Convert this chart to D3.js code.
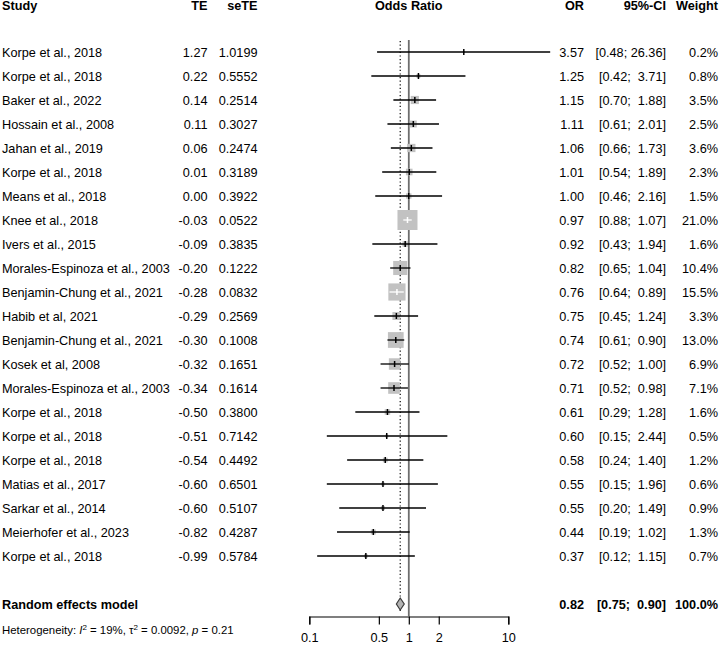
<!DOCTYPE html>
<html><head><meta charset="utf-8">
<script src="https://cdn.jsdelivr.net/npm/d3@7"></script>
<style>
html,body{margin:0;padding:0;background:#fff;}
svg{display:block;font-family:"Liberation Sans",Arial,Helvetica,sans-serif;}
text{white-space:pre;}
</style></head>
<body>
<svg id="chart" width="720" height="646"></svg>
<script>
const studies = ["Korpe et al., 2018","Korpe et al., 2018","Baker et al., 2022","Hossain et al., 2008","Jahan et al., 2019","Korpe et al., 2018","Means et al., 2018","Knee et al., 2018","Ivers et al., 2015","Morales-Espinoza et al., 2003","Benjamin-Chung et al., 2021","Habib et al, 2021","Benjamin-Chung et al., 2021","Kosek et al, 2008","Morales-Espinoza et al., 2003","Korpe et al., 2018","Korpe et al., 2018","Korpe et al., 2018","Matias et al., 2017","Sarkar et al., 2014","Meierhofer et al., 2023","Korpe et al., 2018"];
const TE = ["1.27","0.22","0.14","0.11","0.06","0.01","0.00","-0.03","-0.09","-0.20","-0.28","-0.29","-0.30","-0.32","-0.34","-0.50","-0.51","-0.54","-0.60","-0.60","-0.82","-0.99"];
const seTE = ["1.0199","0.5552","0.2514","0.3027","0.2474","0.3189","0.3922","0.0522","0.3835","0.1222","0.0832","0.2569","0.1008","0.1651","0.1614","0.3800","0.7142","0.4492","0.6501","0.5107","0.4287","0.5784"];
const OR = [3.57,1.25,1.15,1.11,1.06,1.01,1.00,0.97,0.92,0.82,0.76,0.75,0.74,0.72,0.71,0.61,0.60,0.58,0.55,0.55,0.44,0.37];
const lower = [0.48,0.42,0.70,0.61,0.66,0.54,0.46,0.88,0.43,0.65,0.64,0.45,0.61,0.52,0.52,0.29,0.15,0.24,0.15,0.20,0.19,0.12];
const upper = [26.36,3.71,1.88,2.01,1.73,1.89,2.16,1.07,1.94,1.04,0.89,1.24,0.90,1.00,0.98,1.28,2.44,1.40,1.96,1.49,1.02,1.15];
const weight = [0.2,0.8,3.5,2.5,3.6,2.3,1.5,21.0,1.6,10.4,15.5,3.3,13.0,6.9,7.1,1.6,0.5,1.2,0.6,0.9,1.3,0.7];
const pooled = {label:"Random effects model", OR:0.82, lower:0.75, upper:0.90, weight:100.0};
const axisTicks = [0.1,0.5,1,2,10];
const headers = {study:"Study", te:"TE", se:"seTE", plot:"Odds Ratio", or:"OR", ci:"95%-CI", w:"Weight"};

const svg = d3.select("#chart");
const FS = 12.7;
const x = d3.scaleLog().domain([0.1,10]).range([309.3,508.3]);
const y = d3.scaleLinear().domain([0, studies.length-1]).range([52, 556]);
const yPooled = 604;
const sq = d3.scaleSqrt().domain([0, d3.max(weight)]).range([0, 20]);

const col = {study:2, te:207.5, se:257.5, or:584, ci:666, w:718};
const f2 = v => v.toFixed(2);
const pad = (s, n) => s.length < n ? " ".repeat(n - s.length) + s : s;
const ciStr = (l,u) => "[" + f2(l) + "; " + pad(f2(u), 5) + "]";

// headers
const hg = svg.append("g").attr("font-weight","bold").attr("font-size",FS);
hg.append("text").attr("x",col.study).attr("y",10).text(headers.study);
hg.append("text").attr("x",col.te).attr("y",10).attr("text-anchor","end").text(headers.te);
hg.append("text").attr("x",col.se).attr("y",10).attr("text-anchor","end").text(headers.se);
hg.append("text").attr("x",x(1)).attr("y",10).attr("text-anchor","middle").text(headers.plot);
hg.append("text").attr("x",col.or).attr("y",10).attr("text-anchor","end").text(headers.or);
hg.append("text").attr("x",col.ci).attr("y",10).attr("text-anchor","end").text(headers.ci);
hg.append("text").attr("x",col.w).attr("y",10).attr("text-anchor","end").text(headers.w);

// reference lines
svg.append("line").attr("x1",x(1)).attr("x2",x(1)).attr("y1",40).attr("y2",616)
  .attr("stroke","#6e6e6e").attr("stroke-width",1.8);
svg.append("line").attr("x1",x(pooled.OR)).attr("x2",x(pooled.OR)).attr("y1",41).attr("y2",612)
  .attr("stroke","#000").attr("stroke-width",1.2).attr("stroke-dasharray","1.2,2.4");

// study rows
const idx = d3.range(studies.length);
const rows = svg.append("g").attr("font-size",FS);
idx.forEach(i => {
  const yy = y(i);
  const tb = yy + 4.6;
  rows.append("text").attr("x",col.study).attr("y",tb).text(studies[i]);
  rows.append("text").attr("x",col.te).attr("y",tb).attr("text-anchor","end").text(TE[i]);
  rows.append("text").attr("x",col.se).attr("y",tb).attr("text-anchor","end").text(seTE[i]);
  rows.append("text").attr("x",col.or).attr("y",tb).attr("text-anchor","end").text(f2(OR[i]));
  rows.append("text").attr("x",col.ci).attr("y",tb).attr("text-anchor","end").text(ciStr(lower[i],upper[i]));
  rows.append("text").attr("x",col.w).attr("y",tb).attr("text-anchor","end").text(weight[i].toFixed(1)+"%");
});

const marks = svg.append("g");
idx.forEach(i => {
  const yy = y(i), cx = x(OR[i]), s = sq(weight[i]);
  marks.append("rect").attr("x",cx - s/2).attr("y",yy - s/2).attr("width",s).attr("height",s)
    .attr("fill","#c2c2c2");
  const inside = x(lower[i]) >= cx - s/2 && x(upper[i]) <= cx + s/2;
  const c = inside ? "#fff" : "#000";
  marks.append("line").attr("x1",x(lower[i])).attr("x2",x(upper[i])).attr("y1",yy).attr("y2",yy)
    .attr("stroke",c).attr("stroke-width",1.3);
  marks.append("line").attr("x1",cx).attr("x2",cx).attr("y1",yy-3).attr("y2",yy+3)
    .attr("stroke",c).attr("stroke-width",1.5);
});

// pooled
const dh = 6;
marks.append("path")
  .attr("d", `M${x(pooled.lower)},${yPooled} L${x(pooled.OR)},${yPooled-dh} L${x(pooled.upper)},${yPooled} L${x(pooled.OR)},${yPooled+dh} Z`)
  .attr("fill","#b3b3b3").attr("stroke","#3a3a3a").attr("stroke-width",1.2);
const pg = svg.append("g").attr("font-size",FS).attr("font-weight","bold");
pg.append("text").attr("x",col.study).attr("y",yPooled+5).text(pooled.label);
pg.append("text").attr("x",col.or).attr("y",yPooled+5).attr("text-anchor","end").text(f2(pooled.OR));
pg.append("text").attr("x",col.ci).attr("y",yPooled+5).attr("text-anchor","end").text(ciStr(pooled.lower,pooled.upper));
pg.append("text").attr("x",col.w).attr("y",yPooled+5).attr("text-anchor","end").text(pooled.weight.toFixed(1)+"%");

// heterogeneity
const ht = svg.append("text").attr("x",col.study).attr("y",634).attr("font-size",11.4);
ht.append("tspan").text("Heterogeneity: ");
ht.append("tspan").attr("font-style","italic").text("I");
ht.append("tspan").attr("font-size",8).attr("dy",-4.5).text("2");
ht.append("tspan").attr("dy",4.5).text(" = 19%, \u03c4");
ht.append("tspan").attr("font-size",8).attr("dy",-4.5).text("2");
ht.append("tspan").attr("dy",4.5).text(" = 0.0092, ");
ht.append("tspan").attr("font-style","italic").text("p");
ht.append("tspan").text(" = 0.21");

// axis
const axis = d3.axisBottom(x).tickValues(axisTicks).tickFormat(d => String(d)).tickSize(8).tickPadding(8);
const ag = svg.append("g").attr("transform","translate(0,616.5)").call(axis);
ag.select(".domain").attr("stroke","#000").attr("stroke-width",1.2);
ag.selectAll(".tick line").attr("stroke","#000").attr("stroke-width",1.2);
ag.selectAll(".tick text").attr("font-size",FS).attr("fill","#000")
  .attr("font-family","'Liberation Sans',Arial,sans-serif");
</script>
</body></html>
